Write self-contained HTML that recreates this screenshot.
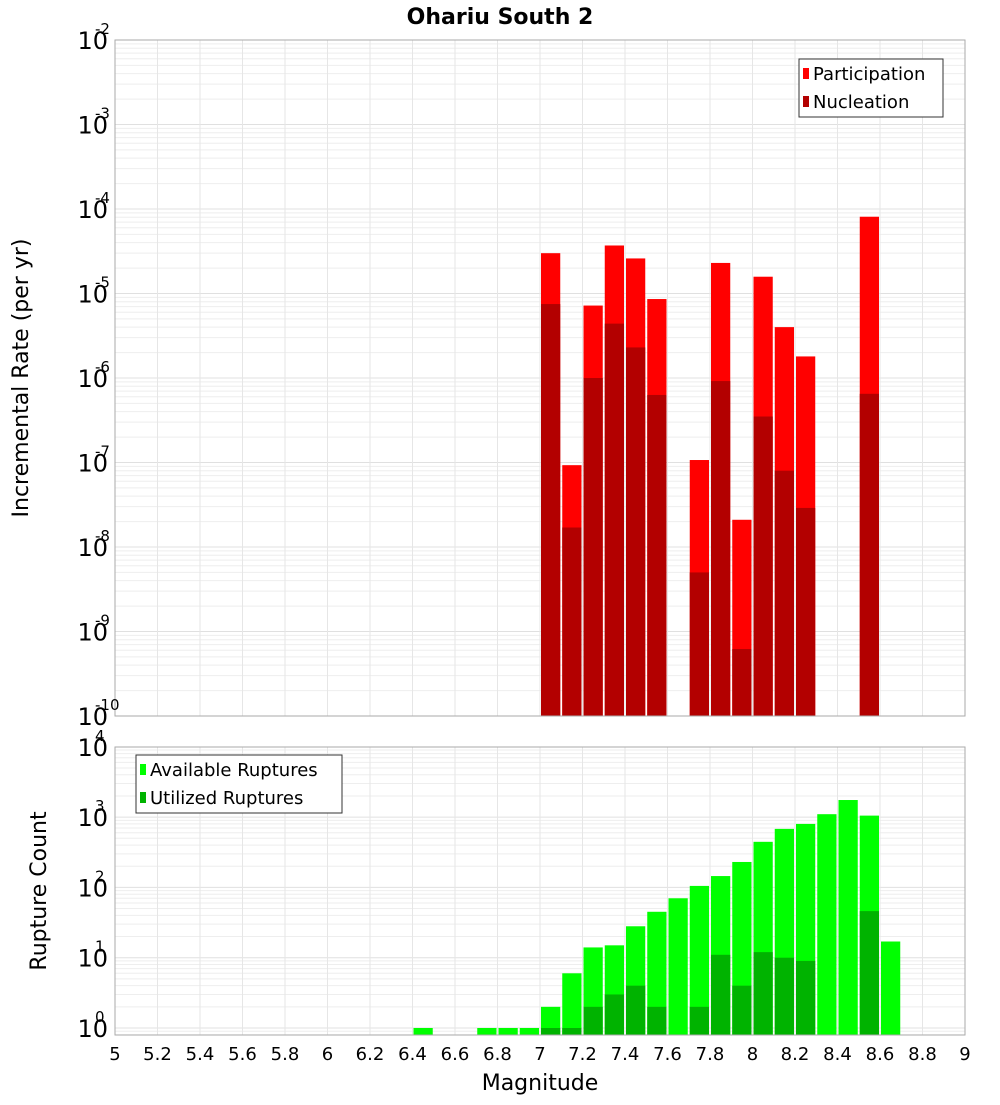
<!DOCTYPE html>
<html><head><meta charset="utf-8"><style>
body{margin:0;background:#fff;font-family:"Liberation Sans","DejaVu Sans",sans-serif}
svg text{font-family:"DejaVu Sans","Liberation Sans",sans-serif}
</style></head><body>
<svg id="c" width="1000" height="1100" xmlns="http://www.w3.org/2000/svg">
<rect width="1000" height="1100" fill="#fff"/>
<text x="500" y="24" text-anchor="middle" font-size="22" font-weight="bold">Ohariu South 2</text>
<g id="gTop"></g><g id="gBot"></g>
<text transform="translate(28,378) rotate(-90)" text-anchor="middle" font-size="22">Incremental Rate (per yr)</text>
<text transform="translate(46,891) rotate(-90)" text-anchor="middle" font-size="22">Rupture Count</text>
<text x="540" y="1090" text-anchor="middle" font-size="22">Magnitude</text>
</svg>
<script>
const mags=[7.0,7.1,7.2,7.3,7.4,7.5,7.7,7.8,7.9,8.0,8.1,8.2,8.5];
const participation=[3.0e-5,9.3e-8,7.2e-6,3.7e-5,2.6e-5,8.6e-6,1.07e-7,2.3e-5,2.1e-8,1.58e-5,4.0e-6,1.8e-6,8.1e-5];
const nucleation=[7.5e-6,1.7e-8,1.0e-6,4.4e-6,2.3e-6,6.3e-7,5e-9,9.2e-7,6.2e-10,3.5e-7,8e-8,2.9e-8,6.5e-7];
const countMags=[6.4,6.7,6.8,6.9,7.0,7.1,7.2,7.3,7.4,7.5,7.6,7.7,7.8,7.9,8.0,8.1,8.2,8.3,8.4,8.5,8.6];
const available=[1,1,1,1,2,6,14,15,28,45,70,105,145,230,445,680,800,1100,1750,1050,17];
const utilized=[0,0,0,0,1,1,2,3,4,2,0,2,11,4,12,10,9,0,0,46,0];
const xTicks=["5","5.2","5.4","5.6","5.8","6","6.2","6.4","6.6","6.8","7","7.2","7.4","7.6","7.8","8","8.2","8.4","8.6","8.8","9"];
const topExp=[-2,-3,-4,-5,-6,-7,-8,-9,-10];
const botExp=[4,3,2,1,0];

const NS="http://www.w3.org/2000/svg";
const X0=115,X1=965;
const x=m=>X0+(m-5)/4*(X1-X0);
const TY0=40,TY1=716,yTop=v=>TY0+(-2-Math.log10(v))*(TY1-TY0)/8;
const BY0=747,BY1=1035,yBot=v=>1028-Math.log10(v)*70.3;
function el(p,t,a){const e=document.createElementNS(NS,t);for(const k in a)e.setAttribute(k,a[k]);p.appendChild(e);return e;}
const gTop=document.getElementById('gTop'),gBot=document.getElementById('gBot');

function frame(g,y0,y1,yf,lo,hi){
  for(let d=lo;d<hi;d++)for(let k=1;k<10;k++){const yy=yf(k*Math.pow(10,d));if(yy<y0||yy>y1)continue;
    const l=el(g,'line',{x1:X0,x2:X1,y1:yy,y2:yy,stroke:k==1?'#e0e0e0':'#eeeeee','stroke-width':1});
    
    }
  xTicks.forEach(t=>{const xx=x(parseFloat(t));
    const l=el(g,'line',{x1:xx,x2:xx,y1:y0,y2:y1,stroke:'#e6e6e6','stroke-width':1});
    
    });
}
frame(gTop,TY0,TY1,yTop,-10,-1);
frame(gBot,BY0,BY1,yBot,-1,4);

mags.forEach((m,i)=>{
  const a=x(m)+1,w=x(m+0.1)-x(m)-2;
  const p=el(gTop,'rect',{x:a,y:yTop(participation[i]),width:w,height:TY1-yTop(participation[i]),fill:'#ff0000'});
  
  
  const n=el(gTop,'rect',{x:a,y:yTop(nucleation[i]),width:w,height:TY1-yTop(nucleation[i]),fill:'#b30000'});
  
  
});
countMags.forEach((m,i)=>{
  const a=x(m)+1,w=x(m+0.1)-x(m)-2;
  if(available[i]>0){const r=el(gBot,'rect',{x:a,y:yBot(available[i]),width:w,height:BY1-yBot(available[i]),fill:'#00ff00'});
    
    }
  if(utilized[i]>0){const r=el(gBot,'rect',{x:a,y:yBot(utilized[i]),width:w,height:BY1-yBot(utilized[i]),fill:'#00b300'});
    
    }
});
[[gTop,TY0,TY1],[gBot,BY0,BY1]].forEach(([g,a,b])=>{
  const r=el(g,'rect',{x:X0,y:a,width:X1-X0,height:b-a,fill:'none',stroke:'#aaa','stroke-width':1});
  
  
});
function ylab(g,e,yy){
  const t=el(g,'text',{x:108,y:yy+9,'text-anchor':'end','font-size':24});
  
  
  t.textContent='10';
  const s=el(g,'text',{x:95,y:yy-6,'font-size':15});
  
  
  s.textContent=String(e);
}
topExp.forEach(e=>ylab(gTop,e,yTop(Math.pow(10,e))));
botExp.forEach(e=>ylab(gBot,e,yBot(Math.pow(10,e))));
xTicks.forEach(t=>{const tx=el(gBot,'text',{x:x(parseFloat(t)),y:1060,'text-anchor':'middle','font-size':18});
  
  
  tx.textContent=t;});
function legend(g,lx,ly,w,items){
  const r=el(g,'rect',{x:lx,y:ly,width:w,height:58,fill:'#fff',stroke:'#333','stroke-width':1});
  
  
  items.forEach(([c,label],i)=>{
    const s=el(g,'rect',{x:lx+4,y:ly+9+i*28,width:6,height:11,fill:c});
    
    
    const t=el(g,'text',{x:lx+14,y:ly+21+i*28,'font-size':18});
    
    
    t.textContent=label;});
}
legend(gTop,799,59,144,[['#ff0000','Participation'],['#b30000','Nucleation']]);
legend(gBot,136,755,206,[['#00ff00','Available Ruptures'],['#00b300','Utilized Ruptures']]);
</script>
</body></html>
